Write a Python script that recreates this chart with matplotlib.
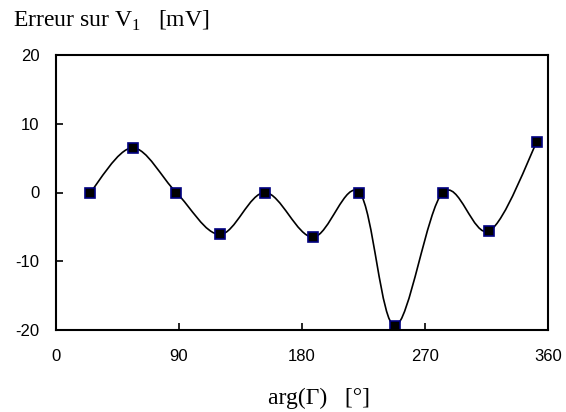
import matplotlib
matplotlib.use("Agg")
import matplotlib.pyplot as plt
from matplotlib.path import Path
from matplotlib.patches import PathPatch
import numpy as np

# data
angle = [25, 56, 88, 120, 153, 188, 222, 248, 283, 317, 352]
err_mv = [0.0, 6.5, 0.0, -6.1, 0.0, -6.5, 0.0, -19.4, 0.0, -5.6, 7.4]
xticks = [0, 90, 180, 270, 360]
yticks = [-20, -10, 0, 10, 20]

plt.rcParams['font.family'] = ['Liberation Sans', 'DejaVu Sans']
plt.rcParams['mathtext.fontset'] = 'custom'
plt.rcParams['mathtext.rm'] = 'Liberation Serif'
plt.rcParams['axes.unicode_minus'] = False

fig = plt.figure(figsize=(5.66, 4.12), dpi=100)
ax = fig.add_axes([56/566, 82/412, 492/566, 275/412])

# excel-like smoothed line: cubic bezier segments, catmull-rom control points
x = np.array(angle, dtype=float)
y = np.array(err_mv, dtype=float)
px = np.concatenate([[x[0]], x, [x[-1]]])
py = np.concatenate([[y[0]], y, [y[-1]]])
verts = [(x[0], y[0])]
codes = [Path.MOVETO]
for i in range(1, len(px) - 2):
    c1 = (px[i] + (px[i+1] - px[i-1]) / 6, py[i] + (py[i+1] - py[i-1]) / 6)
    c2 = (px[i+1] - (px[i+2] - px[i]) / 6, py[i+1] - (py[i+2] - py[i]) / 6)
    verts += [c1, c2, (px[i+1], py[i+1])]
    codes += [Path.CURVE4] * 3
ax.add_patch(PathPatch(Path(verts, codes), fill=False, edgecolor='black', lw=1.2))

ax.plot(angle, err_mv, linestyle='none', marker='s', markersize=7,
        markerfacecolor='black', markeredgecolor='#000080', markeredgewidth=1.2)

ax.set_xlim(0, 360)
ax.set_ylim(-20, 20)
ax.set_xticks(xticks)
ax.set_yticks(yticks)
ax.tick_params(direction='in', length=5, width=1.2, labelsize=12)
ax.tick_params(axis='x', pad=14)
ax.tick_params(axis='y', pad=12)
ax.tick_params(top=False, right=False)
for sp in ax.spines.values():
    sp.set_linewidth(1.5)

fig.text(13/566, 1 - 27/412, r'Erreur sur V$_1$   [mV]', family='Liberation Serif',
         fontsize=17, ha='left', va='baseline')
fig.text(268/566, 1 - 404/412, 'arg(Γ)   [°]', family='Liberation Serif',
         fontsize=17, ha='left', va='baseline')

fig.savefig('out.png', dpi=100)
